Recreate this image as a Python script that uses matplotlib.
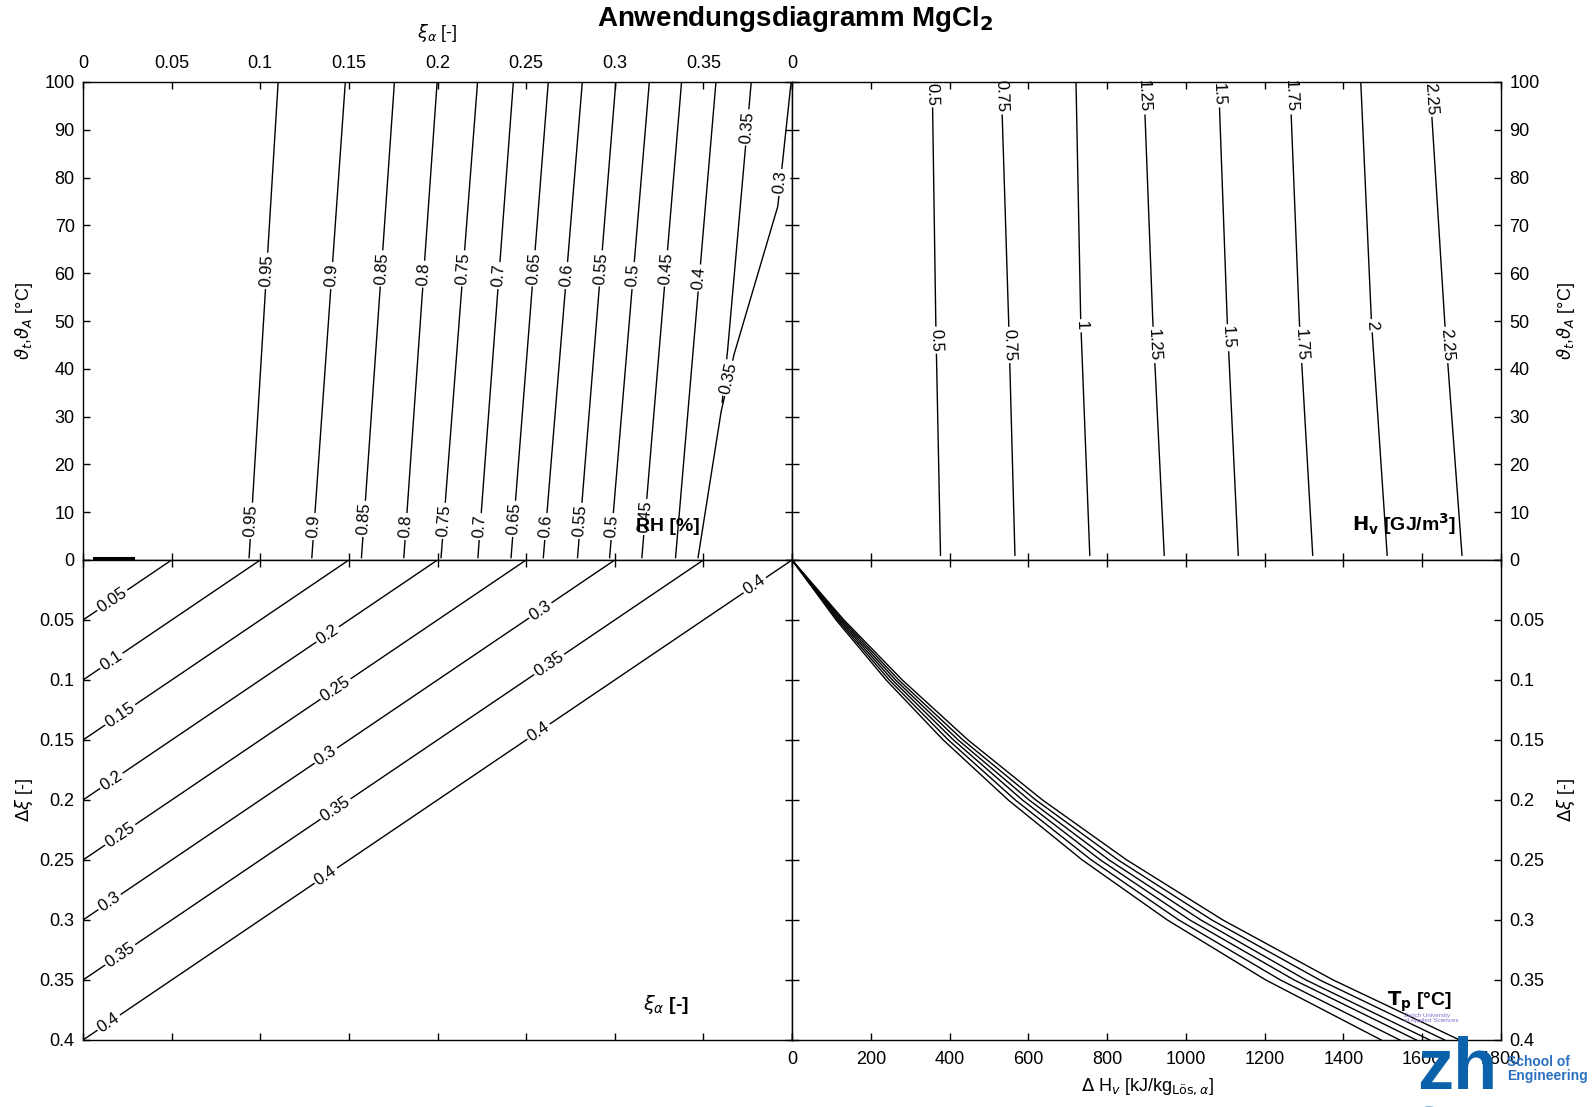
import numpy as np
import matplotlib
matplotlib.use("Agg")
import matplotlib.pyplot as plt

plt.rcParams['font.family'] = ['Liberation Sans', 'DejaVu Sans']
plt.rcParams['mathtext.fontset'] = 'dejavusans'

# ---------------- data ----------------
# top-left: relative humidity contours, xi_alpha at T=0 and T=100
rh_levels = [0.95, 0.9, 0.85, 0.8, 0.75, 0.7, 0.65, 0.6, 0.55, 0.5, 0.45, 0.4]
rh_T = [0.5, 100]
rh_xi_T0 = [0.0937, 0.1291, 0.1571, 0.1810, 0.2020, 0.2228, 0.2415, 0.2597, 0.2790, 0.2971, 0.3153, 0.3343]
rh_xi_T100 = [0.1101, 0.1480, 0.1757, 0.1998, 0.2226, 0.2428, 0.2625, 0.2817, 0.3006, 0.3195, 0.3377, 0.3571]
# solubility boundary (carries 0.3 label) and 0.35 contour
bound_T = [0.5, 31, 43, 74, 100]
bound_xi = [0.347, 0.360, 0.3673, 0.392, 0.3995]
rh035_T = [33, 44, 100]
rh035_xi = [0.3606, 0.3637, 0.377]
rh1_xi = [0.006, 0.028]
rh1_T = [0.4, 0.4]

# top-right: H_v contours (GJ/m3) as Delta H_v positions at T = 1, 50, 100
hv_levels = [0.5, 0.75, 1, 1.25, 1.5, 1.75, 2, 2.25]
hv_T = [1, 50, 100]
hv_T1 = [377, 566, 756, 945, 1133, 1322, 1511, 1701]
hv_T50 = [365, 550, 733, 916, 1105, 1288, 1471, 1657]
hv_T100 = [356, 531, 721, 893, 1083, 1264, 1444, 1619]

# bottom-left: xi_alpha lines  (Delta xi = level at xi=0, 0 at xi=level)
dxi_levels = [0.05, 0.1, 0.15, 0.2, 0.25, 0.3, 0.35, 0.4]

# bottom-right: T_p curves, Delta H_v vs Delta xi
br_dxi = [0, 0.05, 0.1, 0.15, 0.2, 0.25, 0.3, 0.35, 0.4]
tp_curves = [
    [0, 112, 239, 384, 549, 737, 953, 1203, 1496],
    [0, 116, 247, 397, 567, 760, 982, 1240, 1543],
    [0, 120, 255, 410, 585, 783, 1010, 1275, 1585],
    [0, 124, 263, 422, 602, 805, 1038, 1305, 1619],
    [0, 128, 271, 434, 619, 828, 1066, 1340, 1657],
    [0, 132, 280, 447, 636, 850, 1094, 1374, 1695],
]

# tick labels
xi_ticks = [0, 0.05, 0.1, 0.15, 0.2, 0.25, 0.3, 0.35, 0.4]
xi_ticklabels = ['0', '0.05', '0.1', '0.15', '0.2', '0.25', '0.3', '0.35', '']
T_ticks = list(range(0, 101, 10))
dh_ticks = list(range(0, 1801, 200))
dxi_ticklabels = ['', '0.05', '0.1', '0.15', '0.2', '0.25', '0.3', '0.35', '0.4']

# ---------------- layout ----------------
W, H = 1595, 1107
fig = plt.figure(figsize=(W / 100, H / 100), dpi=100)
L, C, R = 83 / W, 792 / W, 1501 / W
TOP, MID, BOT = 1 - 82 / H, 1 - 560 / H, 1 - 1040 / H

axTL = fig.add_axes([L, MID, C - L, TOP - MID])
axTR = fig.add_axes([C, MID, R - C, TOP - MID])
axBL = fig.add_axes([L, BOT, C - L, MID - BOT])
axBR = fig.add_axes([C, BOT, R - C, MID - BOT])

for ax in (axTL, axTR, axBL, axBR):
    for s in ax.spines.values():
        s.set_linewidth(1.0)
        s.set_color('black')
    ax.tick_params(direction='in', length=5, width=1, labelsize=13, pad=6,
                   top=True, bottom=True, left=True, right=True,
                   labeltop=False, labelbottom=False, labelleft=False, labelright=False)

axTL.set_xlim(0, 0.4); axTL.set_ylim(0, 100)
axTR.set_xlim(0, 1800); axTR.set_ylim(0, 100)
axBL.set_xlim(0, 0.4); axBL.set_ylim(0.4, 0)
axBR.set_xlim(0, 1800); axBR.set_ylim(0.4, 0)

axTL.set_xticks(xi_ticks); axTL.set_xticklabels(xi_ticklabels)
axTL.set_yticks(T_ticks)
axTL.tick_params(labeltop=True, labelleft=True)
axTL.tick_params(axis='x', pad=7)

axTR.set_xticks(dh_ticks); axTR.set_xticklabels(['0'] + [''] * (len(dh_ticks) - 1))
axTR.set_yticks(T_ticks)
axTR.tick_params(labeltop=True, labelright=True)
axTR.tick_params(axis='x', pad=7)

axBL.set_xticks(xi_ticks)
axBL.set_yticks(xi_ticks); axBL.set_yticklabels(dxi_ticklabels)
axBL.tick_params(labelleft=True)

axBR.set_xticks(dh_ticks); axBR.set_xticklabels([str(v) for v in dh_ticks])
axBR.set_yticks(xi_ticks); axBR.set_yticklabels(dxi_ticklabels)
axBR.tick_params(labelbottom=True, labelright=True)
axBR.tick_params(axis='x', pad=8)

LW = 1.0


def put_label(ax, fn, t, dt, txt, fs=12):
    x0, y0 = fn(t)
    pa = ax.transData.transform(fn(t - dt))
    pb = ax.transData.transform(fn(t + dt))
    ang = np.degrees(np.arctan2(pb[1] - pa[1], pb[0] - pa[0]))
    ax.text(x0, y0, txt, rotation=ang, rotation_mode='anchor', ha='center', va='center',
            fontsize=fs, zorder=2.2, bbox=dict(fc='white', ec='none', pad=1.5))


def fmt(v):
    return f'{v:g}'


# ---------------- top-left ----------------
rh_upper_T = [60.5, 59.5, 61, 59.8, 61, 59.5, 61, 59.5, 61, 59.5, 61, 59.0]
rh_lower_T = [8.2, 7.0, 8.6, 7.0, 8.2, 7.0, 8.6, 7.0, 8.2, 7.0, 9.0, None]
for i, lev in enumerate(rh_levels):
    xs = [rh_xi_T0[i], rh_xi_T100[i]]
    axTL.plot(xs, rh_T, color='black', lw=LW)
    fn = (lambda xs_: (lambda t: (np.interp(t, rh_T, xs_), t)))(xs)
    put_label(axTL, fn, rh_upper_T[i], 2, fmt(lev))
    if rh_lower_T[i] is not None:
        put_label(axTL, fn, rh_lower_T[i], 2, fmt(lev))

axTL.plot(bound_xi, bound_T, color='black', lw=LW)
axTL.plot(rh035_xi, rh035_T, color='black', lw=LW)
axTL.plot(rh1_xi, rh1_T, color='black', lw=2.2)
fnb = lambda t: (np.interp(t, bound_T, bound_xi), t)
fn35 = lambda t: (np.interp(t, rh035_T, rh035_xi), t)
put_label(axTL, fnb, 79, 2, '0.3')
put_label(axTL, fn35, 90.5, 2, '0.35')
put_label(axTL, fnb, 38, 2, '0.35')

# ---------------- top-right ----------------
hv_upper_T = [97.5, 97, None, 97, 97.5, 97, None, 96.5]
hv_mid_T = [46, 45, 49, 45, 46.5, 45, 49, 45]
for i, lev in enumerate(hv_levels):
    xs = [hv_T1[i], hv_T50[i], hv_T100[i]]
    axTR.plot(xs, hv_T, color='black', lw=LW)
    fn = (lambda xs_: (lambda t: (np.interp(t, hv_T, xs_), t)))(xs)
    put_label(axTR, fn, hv_mid_T[i], -2, fmt(lev))
    if hv_upper_T[i] is not None:
        put_label(axTR, fn, hv_upper_T[i], -1.5, fmt(lev))

# ---------------- bottom-left ----------------
bl_label_xi = {
    0.05: [0.0165], 0.1: [0.016], 0.15: [0.021], 0.2: [0.016, 0.138],
    0.25: [0.021, 0.1425], 0.3: [0.015, 0.137, 0.258],
    0.35: [0.021, 0.1425, 0.263], 0.4: [0.0145, 0.137, 0.257, 0.379],
}
for lev in dxi_levels:
    axBL.plot([0, lev], [lev, 0], color='black', lw=LW)
    fn = (lambda c: (lambda s: (s, c - s)))(lev)
    for s in bl_label_xi[lev]:
        put_label(axBL, fn, s, 0.005, fmt(lev))

# ---------------- bottom-right ----------------
for cv in tp_curves:
    axBR.plot(cv, br_dxi, color='black', lw=LW)

# ---------------- texts ----------------
fig.text(795 / W, 1 - 19 / H, r'Anwendungsdiagramm MgCl$_\mathbf{2}$', ha='center', va='center',
         fontsize=20, fontweight='bold')
fig.text(437 / W, 1 - 33 / H, r'$\xi_\alpha$ [-]', ha='center', va='center', fontsize=13)
fig.text(24 / W, 1 - 321 / H, r'$\vartheta_t$,$\vartheta_A$ [°C]', ha='center', va='center',
         fontsize=13, rotation=90)
fig.text(1566 / W, 1 - 321 / H, r'$\vartheta_t$,$\vartheta_A$ [°C]', ha='center', va='center',
         fontsize=13, rotation=90)
fig.text(24 / W, 1 - 800 / H, r'$\Delta\xi$ [-]', ha='center', va='center', fontsize=13, rotation=90)
fig.text(1566 / W, 1 - 800 / H, r'$\Delta\xi$ [-]', ha='center', va='center', fontsize=13, rotation=90)
fig.text(1147 / W, 1 - 1087 / H, r'$\Delta$ H$_v$ [kJ/kg$_{\mathrm{Lös},\alpha}$]', ha='center',
         va='center', fontsize=13)
fig.text(1404 / W, 1 - 524 / H, r'$\mathbf{H}_\mathbf{v}$ [GJ/m$^\mathbf{3}$]', ha='center',
         va='center', fontsize=14, fontweight='bold')
fig.text(668 / W, 1 - 526 / H, 'RH [%]', ha='center', va='center', fontsize=14, fontweight='bold')
fig.text(666 / W, 1 - 1005 / H, r'$\xi_\alpha$ [-]', ha='center', va='center', fontsize=14,
         fontweight='bold')
fig.text(1419 / W, 1 - 1002 / H, r'$\mathbf{T}_\mathbf{p}$ [°C]', ha='center', va='center',
         fontsize=14, fontweight='bold')

# logo
fig.text(1457 / W, 1 - 1070 / H, 'zh', ha='center', va='center', fontsize=52, fontweight='bold',
         color='#0b62ab', zorder=10)
fig.text(1457 / W, 1 - 1093 / H, 'aw', ha='center', va='top', fontsize=52, fontweight='bold',
         color='#0b62ab', zorder=10)
fig.text(1507 / W, 1 - 1069 / H, 'School of\nEngineering', ha='left', va='center', fontsize=10,
         fontweight='bold', color='#2a6fc0', linespacing=1.0, zorder=10)
fig.text(1404 / W, 1 - 1018 / H, 'Zurich University\nof Applied Sciences', ha='left', va='center',
         fontsize=4.5, color='#8a6fd0', linespacing=1.1, zorder=10)

fig.savefig('out.png', dpi=100)
